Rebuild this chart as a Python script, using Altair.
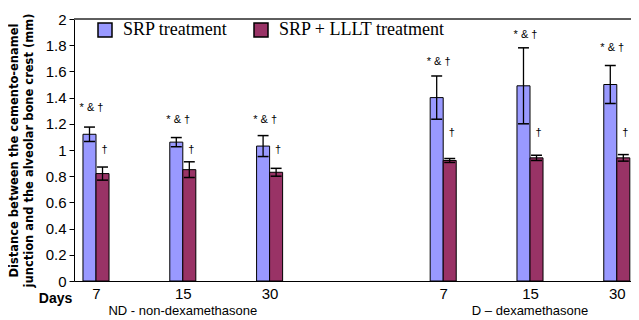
import altair as alt
import pandas as pd

# ---- data ----
slots = [1, 2, 3, 5, 6, 7]                      # category slot (slot 4 is the gap)
day_labels = ["7", "15", "30", "7", "15", "30"]
srp_mean = [1.12, 1.06, 1.03, 1.40, 1.49, 1.50]
srp_sd = [0.055, 0.035, 0.08, 0.165, 0.29, 0.145]
lllt_mean = [0.82, 0.85, 0.83, 0.92, 0.94, 0.94]
lllt_sd = [0.05, 0.06, 0.03, 0.015, 0.02, 0.025]
srp_marks = ["* & †"] * 6
srp_mark_y = [1.32, 1.23, 1.23, 1.67, 1.88, 1.78]
lllt_marks = ["†"] * 6
lllt_mark_y = [1.0, 1.0, 1.0, 1.13, 1.13, 1.13]
series_names = ["SRP treatment", "SRP + LLLT treatment"]
series_colors = ["#9999ff", "#993366"]
group_names = ["ND - non-dexamethasone", "D – dexamethasone"]
group_slots = [2, 6]
y_ticks = [0, 0.2, 0.4, 0.6, 0.8, 1.0, 1.2, 1.4, 1.6, 1.8, 2.0]

BAR = 0.15    # bar width in slot units
CAP = 0.063   # half cap width in slot units

rows = []
for i, s in enumerate(slots):
    for k, (m, sd, lab, ly) in enumerate([
        (srp_mean[i], srp_sd[i], srp_marks[i], srp_mark_y[i]),
        (lllt_mean[i], lllt_sd[i], lllt_marks[i], lllt_mark_y[i]),
    ]):
        x0 = s - BAR if k == 0 else s
        x1 = s if k == 0 else s + BAR
        c = (x0 + x1) / 2
        rows.append(dict(series=series_names[k], x0=x0, x1=x1, c=c,
                         cl=c - CAP, cr=c + CAP, mean=m, zero=0.0,
                         lo=m - sd, hi=m + sd, mark=lab, marky=ly))
df = pd.DataFrame(rows)
gdf = pd.DataFrame({"name": group_names, "slot": group_slots})

xscale = alt.Scale(domain=[0.7465, 7.1636], nice=False, zero=False)
yscale = alt.Scale(domain=[0, 2], nice=False)

label_expr = "{" + ",".join(f"'{s}':'{d}'" for s, d in zip(slots, day_labels)) + "}[datum.value] || ''"

xaxis = alt.Axis(values=slots, labelExpr=label_expr, ticks=False,
                 grid=False, domainColor="black", domainWidth=1,
                 labelFont="Liberation Sans", labelFontSize=15,
                 labelColor="black", labelPadding=5, labelOverlap=False,
                 title="Days", titleFont="Liberation Sans",
                 titleFontSize=14, titleFontWeight="bold",
                 titleX=-19, titleY=10, titleAlign="center",
                 titleBaseline="top", titleColor="black")
yaxis = alt.Axis(values=y_ticks, format="~g", grid=False,
                 tickSize=5, tickColor="black", domainColor="black",
                 labelFont="Liberation Sans", labelFontSize=15,
                 labelColor="black", labelPadding=3, labelOverlap=False,
                 title=["Distance between the cemento-enamel",
                        "junction and the alveolar bone crest (mm)"],
                 titleFont="DejaVu Sans", titleFontSize=11.5,
                 titleFontWeight="bold", titleColor="black",
                 titleAngle=270, titleX=-66, titleY=131,
                 titleAlign="center", titleBaseline="top",
                 titleLineHeight=15)

base = alt.Chart(df)

bars = base.mark_rect(stroke="black", strokeWidth=1).encode(
    x=alt.X("x0:Q", scale=xscale, axis=xaxis),
    x2="x1:Q",
    y=alt.Y("mean:Q", scale=yscale, axis=yaxis),
    y2="zero:Q",
    color=alt.Color("series:N",
                    scale=alt.Scale(domain=series_names, range=series_colors),
                    legend=alt.Legend(title=None, orient="none", direction="horizontal",
                                      legendX=22, legendY=2, symbolType="square",
                                      symbolSize=196, symbolStrokeColor="black",
                                      symbolStrokeWidth=1.5, labelFont="Liberation Serif",
                                      labelFontSize=18, labelColor="black", labelLimit=400,
                                      labelOffset=9, columnPadding=23, padding=0)),
)

err = base.mark_rule(color="black", strokeWidth=1.3).encode(
    x=alt.X("c:Q", scale=xscale, axis=xaxis),
    y=alt.Y("lo:Q", scale=yscale, axis=yaxis), y2="hi:Q")
cap_hi = base.mark_rule(color="black", strokeWidth=1.5).encode(
    x=alt.X("cl:Q", scale=xscale, axis=xaxis), x2="cr:Q",
    y=alt.Y("hi:Q", scale=yscale, axis=yaxis))
cap_lo = base.mark_rule(color="black", strokeWidth=1.5).encode(
    x=alt.X("cl:Q", scale=xscale, axis=xaxis), x2="cr:Q",
    y=alt.Y("lo:Q", scale=yscale, axis=yaxis))

marks = base.mark_text(font="Liberation Sans", fontSize=11, color="black",
                       baseline="middle", dx=2).encode(
    x=alt.X("c:Q", scale=xscale, axis=xaxis),
    y=alt.Y("marky:Q", scale=yscale, axis=yaxis), text="mark:N")

groups = alt.Chart(gdf).mark_text(font="Liberation Sans", fontSize=13, color="black",
                                  baseline="middle").encode(
    x=alt.X("slot:Q", scale=xscale, axis=xaxis), y=alt.value(292), text="name:N")

top = alt.Chart(gdf).mark_rule(color="#555555", strokeWidth=1.5).encode(
    y=alt.value(0))

chart = alt.layer(bars, err, cap_hi, cap_lo, marks, groups, top).properties(
    width=557, height=262,
    autosize=alt.AutoSizeParams(type="none"),
    padding={"left": 66, "top": 11, "right": 0, "bottom": 38},
).configure_view(stroke=None).configure(background="white")

chart.save("out.html", embed_options={"renderer": "svg", "actions": False})
